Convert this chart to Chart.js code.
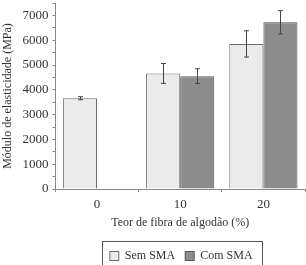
<!DOCTYPE html>
<html>
<head>
<meta charset="utf-8">
<script src="https://cdn.jsdelivr.net/npm/chart.js@4"></script>
<style>
  html, body { margin: 0; padding: 0; background: #fff; }
  #wrap { width: 306px; height: 265px; }
</style>
</head>
<body>
<div id="wrap"><canvas id="myChart"></canvas></div>
<script>
const categories = ['0', '10', '20'];
const semSMA = [3660, 4660, 5850];
const semErr = [60, 400, 530];
const comSMA = [null, 4550, 6720];
const comErr = [null, 300, 470];

// error bars drawn from the y scale
const errorBars = {
    id: 'errorBars',
    afterDatasetsDraw(chart) {
        const c = chart.ctx;
        const y = chart.scales.y;
        const errs = [semErr, comErr];
        c.save();
        c.strokeStyle = '#444';
        c.lineWidth = 1;
        chart.data.datasets.forEach((ds, i) => {
            chart.getDatasetMeta(i).data.forEach((bar, j) => {
                const v = ds.data[j];
                if (v === null) return;
                const e = errs[i][j];
                const x = Math.round(bar.x) + 0.5;
                const t = y.getPixelForValue(v + e);
                const b = y.getPixelForValue(v - e);
                c.beginPath();
                c.moveTo(x, t); c.lineTo(x, b);
                c.moveTo(x - 2.5, t); c.lineTo(x + 2.5, t);
                c.moveTo(x - 2.5, b); c.lineTo(x + 2.5, b);
                c.stroke();
            });
        });
        c.restore();
    }
};

// centre the legend under the plot area, then frame it
const legendBox = {
    id: 'legendBox',
    afterLayout(chart) {
        const l = chart.legend;
        const mid = (chart.chartArea.left + chart.chartArea.right) / 2 + 1;
        const shift = mid - (l.left + l.right) / 2;
        l.left += shift;
        l.right += shift;
    },
    afterDraw(chart) {
        const boxes = chart.legend.legendHitBoxes;
        if (!boxes || !boxes.length) return;
        const last = boxes[boxes.length - 1];
        const left = boxes[0].left - 8;
        const right = last.left + last.width + 9;
        const top = boxes[0].top - 9;
        const c = chart.ctx;
        c.save();
        c.strokeStyle = '#555';
        c.lineWidth = 1;
        c.strokeRect(Math.round(left) + 0.5, Math.round(top) + 0.5, Math.round(right - left), 40);
        c.restore();
    }
};

Chart.defaults.font.family = '"Liberation Serif", "Times New Roman", serif';
Chart.defaults.color = '#333';

const ctx = document.getElementById('myChart').getContext('2d');
new Chart(ctx, {
    type: 'bar',
    data: {
        labels: categories,
        datasets: [
            {
                label: 'Sem SMA',
                data: semSMA,
                backgroundColor: '#ebebeb',
                borderColor: '#6e6e6e',
                borderWidth: 1,
            },
            {
                label: 'Com SMA',
                data: comSMA,
                backgroundColor: '#8c8c8c',
                borderColor: '#555',
                borderWidth: 1,
            },
        ],
    },
    options: {
        responsive: true,
        maintainAspectRatio: false,
        animation: false,
        datasets: {
            bar: { categoryPercentage: 0.82, barPercentage: 1.0 }
        },
        layout: { padding: { top: 3, right: 1, left: 1, bottom: -7 } },
        plugins: {
            legend: {
                position: 'bottom',
                labels: {
                    boxWidth: 9,
                    boxHeight: 9,
                    padding: 10,
                    font: { size: 12 },
                    color: '#333',
                },
            },
            tooltip: { enabled: false },
        },
        scales: {
            x: {
                grid: { display: true, drawOnChartArea: false, offset: true, tickLength: 3, color: '#888' },
                border: { color: '#888' },
                ticks: { font: { size: 13 }, padding: 5 },
                title: {
                    display: true,
                    text: 'Teor de fibra de algodão (%)',
                    font: { size: 12 },
                    padding: { top: -2, bottom: 10 },
                },
            },
            y: {
                min: 0,
                max: 7500,
                afterFit: s => { s.paddingTop = 0; },
                grid: { display: true, drawOnChartArea: false, tickLength: 3, color: '#888' },
                border: { color: '#888' },
                ticks: {
                    stepSize: 500,
                    autoSkip: false,
                    font: { size: 13 },
                    padding: 4,
                    callback: v => (v % 1000 === 0 ? v : ''),
                },
                title: {
                    display: true,
                    text: 'Módulo de elasticidade (MPa)',
                    font: { size: 12 },
                    padding: { top: 0, bottom: 3 },
                },
            },
        },
    },
    plugins: [errorBars, legendBox],
});
</script>
</body>
</html>
